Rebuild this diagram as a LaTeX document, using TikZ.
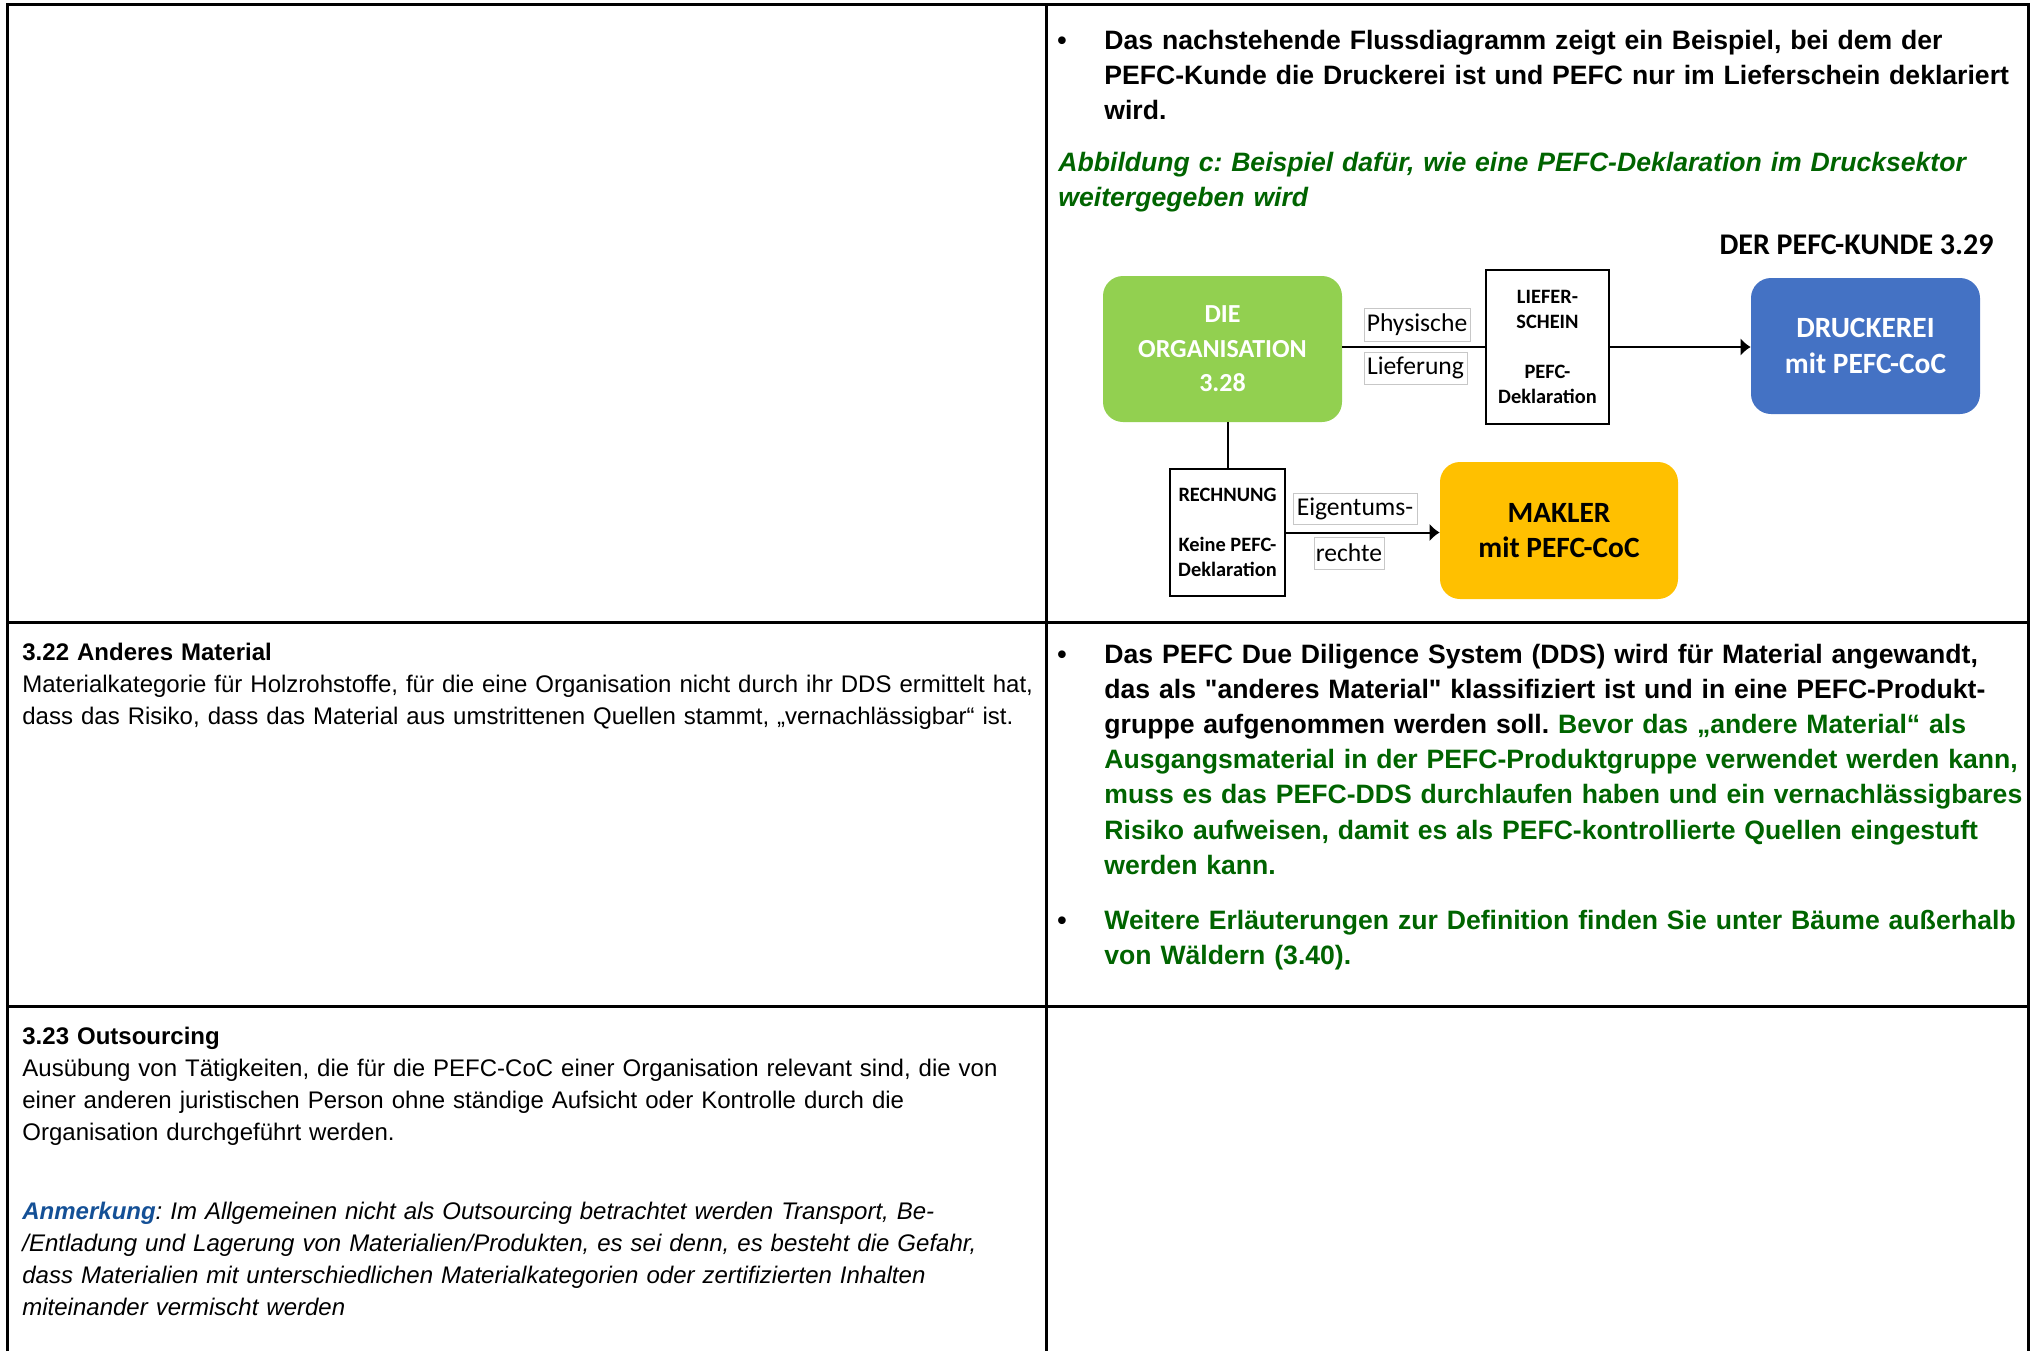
\documentclass[tikz,border=0pt]{standalone}
\usepackage{fontspec}
\setmainfont{Liberation Sans}
\newfontfamily\plainarial{Liberation Sans}
\newfontfamily\calibri{Carlito}
\usetikzlibrary{arrows.meta}

\definecolor{orggreen}{HTML}{92D050}
\definecolor{printblue}{HTML}{4472C4}
\definecolor{brokeryellow}{HTML}{FFC000}
\definecolor{notegreen}{RGB}{0,100,0}
\definecolor{noteblue}{RGB}{20,80,150}

\newcommand{\dq}{{\plainarial\bfseries"}}

\tikzset{
	gridline/.style={line width=1.5pt},
	leftcell/.style={anchor=base west, inner sep=0pt, text width=520pt, align=left, font=\fontsize{12}{16}\selectfont},
	rightcell/.style={anchor=base west, inner sep=0pt, text width=520pt, align=left, font=\bfseries\fontsize{13.3}{17.6}\selectfont},
	bulletmark/.style={anchor=base west, inner sep=0pt, font=\bfseries\fontsize{13.3}{17.6}\selectfont},
	roundbox/.style={rounded corners=10pt, align=center, inner sep=0pt, font=\calibri\bfseries\fontsize{14.7}{17.75}\selectfont},
	docbox/.style={draw, line width=1pt, align=center, inner sep=0pt, font=\calibri\bfseries\fontsize{10.2}{12.5}\selectfont},
	flowlabel/.style={draw=black!22, line width=0.5pt, inner sep=0pt, font=\calibri\fontsize{12.8}{15}\selectfont},
	flowline/.style={line width=1pt},
}

\begin{document}
\frenchspacing
\begin{tikzpicture}[x=0.5pt,y=-0.5pt]
	\useasboundingbox (0,0) rectangle (2031,1351);
	
	% table grid
	\def\xl{7} % left border
	\def\xm{1046} % column divider
	\def\xr{2028} % right border
	\coordinate (TL) at (\xl,4);
	\coordinate (TR) at (\xr,4);
	\coordinate (BL) at (\xl,1351);
	\coordinate (BR) at (\xr,1351);
	\draw[gridline] (BL) -- (TL) -- (TR) -- (BR);
	\draw[gridline] (\xm,4) -- (\xm,1351);
	\draw[gridline] (\xl,622) -- (\xr,622);
	\draw[gridline] (\xl,1006) -- (\xr,1006);
	
	% row 1, right cell
	\node[bulletmark] (b1) at (1057,49) {\textbullet};
	\node[rightcell] (intro) at (1104,49) {Das nachstehende Flussdiagramm zeigt ein Beispiel, bei dem der\\
		PEFC-Kunde die Druckerei ist und PEFC nur im Lieferschein deklariert\\
		wird.};
	\node[rightcell, text=notegreen, font=\bfseries\itshape\fontsize{13.3}{17.6}\selectfont] (caption) at (1058,171)
	{Abbildung c: Beispiel dafür, wie eine PEFC-Deklaration im Drucksektor\\
		weitergegeben wird};
	
	% flow diagram
	\node[anchor=base east, inner sep=0pt, font=\calibri\bfseries\fontsize{15}{18}\selectfont] (kunde) at (1994,254) {DER PEFC-KUNDE 3.29};
	\node[roundbox, fill=orggreen, text=white, minimum width=119.5pt, minimum height=73pt,
	font=\calibri\bfseries\fontsize{13}{17.25}\selectfont] (org) at (1222.5,349) {DIE\\ORGANISATION\\3.28};
	\node[docbox, minimum width=61.5pt, minimum height=77pt] (liefer) at (1547.5,347) {LIEFER-\\SCHEIN\\[12.5pt]PEFC-\\Deklaration};
	\node[roundbox, fill=printblue, text=white, minimum width=114.5pt, minimum height=68pt] (druck) at (1865.5,346) {DRUCKEREI\\mit PEFC-CoC};
	\node[docbox, minimum width=57.5pt, minimum height=63.5pt] (rech) at (1227.5,532.5) {RECHNUNG\\[12.5pt]Keine PEFC-\\Deklaration};
	\node[roundbox, fill=brokeryellow, minimum width=119pt, minimum height=68.5pt] (makler) at (1559,530.5) {MAKLER\\mit PEFC-CoC};
	
	% connectors
	\draw[flowline] (liefer.west -| org.east) -- (liefer.west);
	\draw[flowline, -{Latex[length=5pt,width=9pt]}] (liefer.east) -- (liefer.east -| druck.west);
	\draw[flowline] (rech.north |- org.south) -- (rech.north);
	\draw[flowline, -{Latex[length=5pt,width=9pt]}] (rech.east) -- (rech.east -| makler.west);
	
	% labels on the connectors
	\node[flowlabel, minimum width=53pt, minimum height=16.5pt] (phys) at (1417,324.5) {Physische};
	\node[flowlabel, minimum width=51.5pt, minimum height=16pt] (lief) at (1415.5,368) {Lieferung};
	\node[flowlabel, minimum width=62pt, minimum height=15.5pt] (eigen) at (1355,508.5) {Eigentums-};
	\node[flowlabel, minimum width=35pt, minimum height=16pt] (recht) at (1349,553) {rechte};
	
	% row 2
	\node[leftcell] (anderes) at (22,660) {\textbf{3.22 Anderes Material}\\
		Materialkategorie für Holzrohstoffe, für die eine Organisation nicht durch ihr DDS ermittelt hat,\\
		dass das Risiko, dass das Material aus umstrittenen Quellen stammt, „vernachlässigbar“ ist.};
	\node[bulletmark] (b2) at (1057,663) {\textbullet};
	\node[rightcell] (dds) at (1104,663) {Das PEFC Due Diligence System (DDS) wird für Material angewandt,\\
		das als \dq anderes Material\dq\ klassifiziert ist und in eine PEFC-Produkt-\\
		gruppe aufgenommen werden soll. \textcolor{notegreen}{Bevor das „andere Material“ als}\\
		\textcolor{notegreen}{Ausgangsmaterial in der PEFC-Produktgruppe verwendet werden kann,}\\
		\textcolor{notegreen}{muss es das PEFC-DDS durchlaufen haben und ein vernachlässigbares}\\
		\textcolor{notegreen}{Risiko aufweisen, damit es als PEFC-kontrollierte Quellen eingestuft}\\
		\textcolor{notegreen}{werden kann.}};
	\node[bulletmark] (b3) at (1057,929) {\textbullet};
	\node[rightcell, text=notegreen] (baeume) at (1104,929) {Weitere Erläuterungen zur Definition finden Sie unter Bäume außerhalb\\
		von Wäldern (3.40).};
	
	% row 3
	\node[leftcell] (outsrc) at (22,1044) {\textbf{3.23 Outsourcing}\\
		Ausübung von Tätigkeiten, die für die PEFC-CoC einer Organisation relevant sind, die von\\
		einer anderen juristischen Person ohne ständige Aufsicht oder Kontrolle durch die\\
		Organisation durchgeführt werden.};
	\node[leftcell, font=\itshape\fontsize{12}{16}\selectfont] (anm) at (22,1219) {\textcolor{noteblue}{\textbf{Anmerkung}}: Im Allgemeinen nicht als Outsourcing betrachtet werden Transport, Be-\\
		/Entladung und Lagerung von Materialien/Produkten, es sei denn, es besteht die Gefahr,\\
		dass Materialien mit unterschiedlichen Materialkategorien oder zertifizierten Inhalten\\
		miteinander vermischt werden};
\end{tikzpicture}
\end{document}
